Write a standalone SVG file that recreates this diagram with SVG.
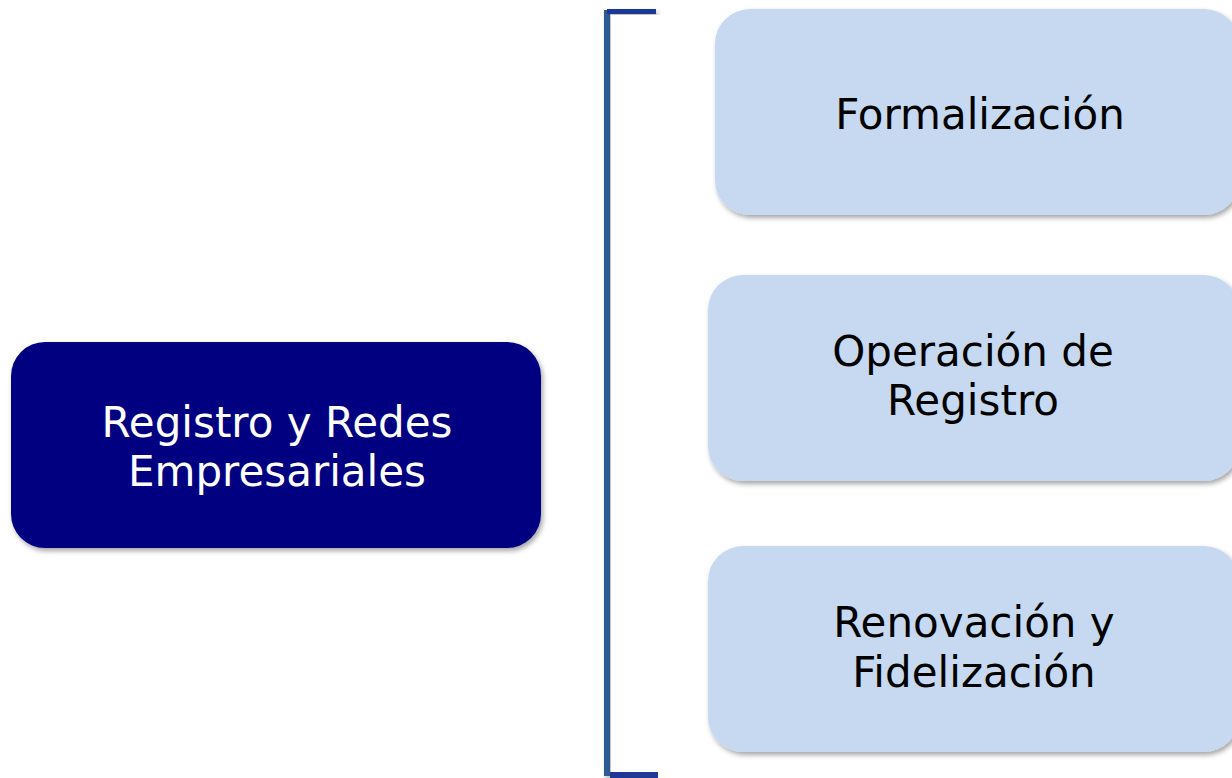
<svg xmlns="http://www.w3.org/2000/svg" width="1232" height="778" viewBox="0 0 1232 778">
  <defs>
    <filter id="sh" x="-10%" y="-10%" width="120%" height="130%">
      <feDropShadow dx="2" dy="3" stdDeviation="2.5" flood-color="#000" flood-opacity="0.35"/>
    </filter>
  </defs>
  <style>
    .lt { fill: #C6D9F0; filter: url(#sh); }
    .dk { fill: #000080; filter: url(#sh); }
    .t { font-family: "DejaVu Sans", Verdana, sans-serif; font-size: 42px; text-anchor: middle; }
    .tb { fill: #000000; }
    .tw { fill: #FFFFFF; }
  </style>
  <rect width="1232" height="778" fill="#FFFFFF"/>
  <g id="connectors">
    <rect x="604" y="10" width="6" height="766" fill="#2E5C92" filter="url(#sh)"/>
    <rect x="607" y="9" width="49" height="5" fill="#1F3795" filter="url(#sh)"/>
    <rect x="610" y="772" width="48" height="6" fill="#1F3795"/>
  </g>
  <g id="main">
    <rect class="dk" x="11" y="342" width="530" height="206" rx="34"/>
    <text class="t tw" x="277" y="437">Registro y Redes</text>
    <text class="t tw" x="277" y="486">Empresariales</text>
  </g>
  <g id="formalizacion">
    <rect class="lt" x="715" y="9" width="524" height="206" rx="35"/>
    <text class="t tb" x="980" y="129">Formalización</text>
  </g>
  <g id="operacion">
    <rect class="lt" x="708" y="275" width="531" height="206" rx="35"/>
    <text class="t tb" x="973" y="366">Operación de</text>
    <text class="t tb" x="973" y="415">Registro</text>
  </g>
  <g id="renovacion">
    <rect class="lt" x="708" y="546" width="531" height="206" rx="35"/>
    <text class="t tb" x="974" y="637">Renovación y</text>
    <text class="t tb" x="974" y="687">Fidelización</text>
  </g>
</svg>
